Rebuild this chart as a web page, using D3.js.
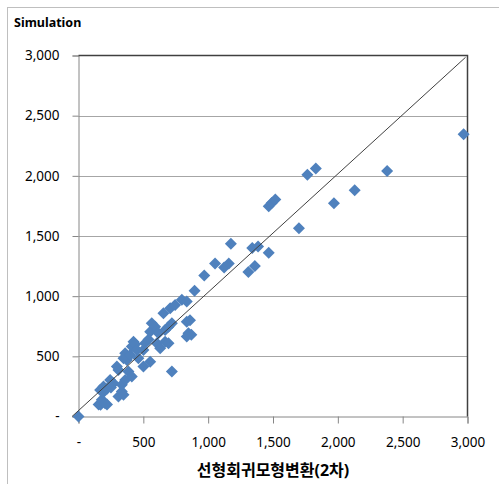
<!DOCTYPE html>
<html>
<head>
<meta charset="utf-8">
<script src="https://cdn.jsdelivr.net/npm/d3@7"></script>
<style>
  html, body { margin: 0; padding: 0; background: #fff; }
  svg { display: block; }
  text { font-family: "Noto Sans", "Noto Sans CJK KR", sans-serif; }
</style>
</head>
<body>
<svg id="chart" width="499" height="484"></svg>
<script>
// ---- data ----
const chartTitle = "Simulation";
const xAxisTitle = "선형회귀모형변환(2차)";
const tickValues = [0, 500, 1000, 1500, 2000, 2500, 3000];
const tickLabels = ["-", "500", "1,000", "1,500", "2,000", "2,500", "3,000"];
const xValues = [
  0, 155, 170, 180, 205, 220, 167, 193, 190, 220, 244, 270, 250, 296, 308, 308,
  334, 347, 334, 360, 385, 411, 373, 360, 347, 398, 411, 424, 437, 450, 462, 501,
  553, 720,
  501, 514, 540, 553, 591, 565, 604, 630, 617, 668, 694, 668, 694, 720, 655, 707,
  745, 797, 835, 848, 870, 835, 835, 860, 895,
  970, 1053, 1123, 1159, 1175, 1310, 1360, 1340, 1385,
  1467, 1467, 1490, 1518, 1700, 1765, 1830, 1970, 2130, 2380, 2970
];
const yValues = [
  0, 100, 97, 139, 110, 100, 221, 249, 200, 230, 304, 277, 240, 415, 387, 166,
  207, 180, 263, 304, 373, 332, 470, 526, 484, 512, 581, 622, 600, 553, 484, 415,
  456, 373,
  553, 609, 640, 705, 746, 775, 609, 567, 692, 622, 609, 719, 746, 775, 858, 899,
  926, 970, 955, 692, 680, 665, 788, 800, 1045,
  1172, 1272, 1239, 1272, 1435, 1200, 1250, 1400, 1412,
  1360, 1748, 1775, 1803, 1565, 2010, 2060, 1772, 1880, 2040, 2345
];
const refLineX = [-50, 2985];
const refLineY = [0, 2985];

// ---- layout ----
const plot = { left: 78.5, right: 467.5, top: 55.5, bottom: 416.5 };
const svg = d3.select("#chart");

const x = d3.scaleLinear().domain([0, 3000]).range([plot.left, plot.right]);
const y = d3.scaleLinear().domain([0, 3000]).range([plot.bottom, plot.top]);

// outer chart border (clipped by window on right/bottom)
svg.append("rect")
  .attr("x", 7.5).attr("y", 7.5)
  .attr("width", 700).attr("height", 700)
  .attr("fill", "#fff").attr("stroke", "#BFBFBF").attr("stroke-width", 1);

// title
svg.append("text")
  .attr("x", 14).attr("y", 27)
  .attr("font-size", 12.5).attr("font-weight", "bold").attr("fill", "#000")
  .text(chartTitle);

// gridlines
svg.append("g")
  .selectAll("line")
  .data(tickValues.filter(v => v > 0 && v < 3000))
  .join("line")
  .attr("x1", plot.left).attr("x2", plot.right)
  .attr("y1", d => Math.round(y(d)) + 0.5).attr("y2", d => Math.round(y(d)) + 0.5)
  .attr("stroke", "#A6A6A6").attr("stroke-width", 1);

// y axis
const yAxis = d3.axisLeft(y)
  .tickValues(tickValues)
  .tickFormat((d, i) => tickLabels[i])
  .tickSize(6).tickPadding(13);
const gy = svg.append("g").attr("transform", `translate(${plot.left},0)`).call(yAxis);
gy.select(".domain").attr("stroke", "#868686");
gy.selectAll(".tick line").attr("stroke", "#868686");
gy.selectAll(".tick text").attr("font-size", 13.5).attr("fill", "#000")
  .attr("font-family", "'Noto Sans', sans-serif");

// x axis
const xAxis = d3.axisBottom(x)
  .tickValues(tickValues)
  .tickFormat((d, i) => tickLabels[i])
  .tickSize(7).tickPadding(14);
const gx = svg.append("g").attr("transform", `translate(0,${plot.bottom})`).call(xAxis);
gx.select(".domain").attr("stroke", "#868686");
gx.selectAll(".tick line").attr("stroke", "#868686");
gx.selectAll(".tick text").attr("font-size", 13.5).attr("fill", "#000")
  .attr("font-family", "'Noto Sans', sans-serif");

// plot top/right border
svg.append("path")
  .attr("d", `M${plot.left},${plot.top}H${plot.right}V${plot.bottom}`)
  .attr("fill", "none").attr("stroke", "#404040").attr("stroke-width", 1.5);

// x axis title
svg.append("text")
  .attr("x", 273).attr("y", 476)
  .attr("text-anchor", "middle")
  .attr("font-size", 16).attr("font-weight", "bold").attr("fill", "#000")
  .attr("font-family", "'Noto Sans CJK KR', sans-serif")
  .text(xAxisTitle);

// points
const pts = xValues.map((v, i) => ({ x: v, y: yValues[i] }));
const sym = d3.symbol().type(d3.symbolSquare).size(72);
svg.append("g")
  .selectAll("path")
  .data(pts)
  .join("path")
  .attr("d", sym)
  .attr("transform", d => `translate(${x(d.x)},${y(d.y)}) rotate(45)`)
  .attr("fill", "#4F81BD");

// reference line
svg.append("line")
  .attr("x1", x(refLineX[0])).attr("y1", y(refLineY[0]))
  .attr("x2", x(refLineX[1])).attr("y2", y(refLineY[1]))
  .attr("stroke", "#404040").attr("stroke-width", 1);
</script>
</body>
</html>
